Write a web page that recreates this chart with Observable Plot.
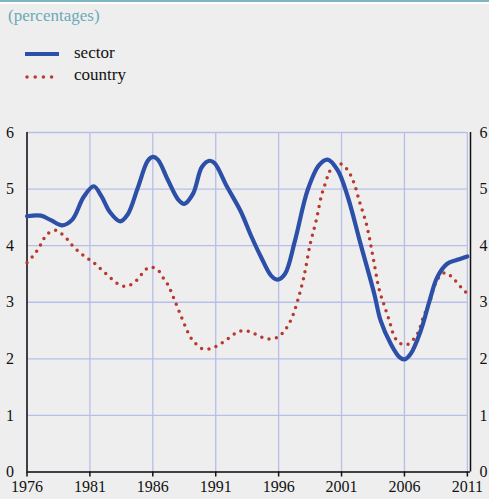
<!DOCTYPE html>
<html>
<head>
<meta charset="utf-8">
<script src="https://cdn.jsdelivr.net/npm/d3@7"></script>
<script src="https://cdn.jsdelivr.net/npm/@observablehq/plot@0.6"></script>
<style>
  html, body { margin: 0; padding: 0; background: #eeeeee; }
  #wrap { position: relative; width: 489px; height: 499px; overflow: hidden; background: #eeeeee; font-family: "Liberation Serif", "Times New Roman", Times, "DejaVu Serif", serif; }
  #topbar { position: absolute; left: 0; top: 0; width: 489px; height: 2px; background: #7fb4c0; }
  #topwhite { position: absolute; left: 0; top: 2px; width: 489px; height: 2px; background: #ffffff; }
  #title { position: absolute; left: 8px; top: 6px; font-size: 17px; color: #6aaab6; }
  .leg { position: absolute; left: 25px; font-size: 17px; color: #111; display: flex; align-items: center; }
  .leg svg { margin-right: 14px; }
  #chart { position: absolute; left: 0; top: 0; }
  #chart svg text { font-family: "Liberation Serif", "Times New Roman", Times, "DejaVu Serif", serif; }
</style>
</head>
<body>
<div id="wrap">
  <div id="topbar"></div>
  <div id="topwhite"></div>
  <div id="title">(percentages)</div>
  <div class="leg" style="top:43px;"><svg width="35" height="20"><line x1="0" x2="34" y1="11" y2="11" stroke="#2c4fa8" stroke-width="4"/></svg><span>sector</span></div>
  <div class="leg" style="top:65px;"><svg width="35" height="20"><line x1="2" x2="34" y1="12" y2="12" stroke="#b83a2e" stroke-width="3.5" stroke-linecap="round" stroke-dasharray="0 8.2"/></svg><span>country</span></div>
  <div id="chart"></div>
</div>
<script>
// ---- data ----
const sectorYears = [1976.0, 1977.1, 1977.9, 1978.8, 1979.6, 1980.5, 1981.3, 1981.9, 1982.6, 1983.4, 1984.0, 1984.8, 1985.6, 1986.0, 1986.4, 1987.2, 1988.0, 1988.5, 1989.2, 1989.9, 1990.5, 1990.9, 1991.9, 1993.0, 1993.8, 1994.6, 1995.4, 1995.9, 1996.5, 1997.3, 1998.3, 1999.2, 1999.9, 2000.7, 2001.5, 2002.5, 2003.6, 2004.1, 2004.9, 2005.6, 2006.0, 2006.5, 2007.3, 2008.0, 2008.6, 2009.4, 2010.2, 2011.0];
const sectorValues = [4.52, 4.53, 4.45, 4.36, 4.46, 4.86, 5.05, 4.88, 4.59, 4.43, 4.55, 5.02, 5.50, 5.57, 5.52, 5.16, 4.82, 4.74, 4.92, 5.39, 5.50, 5.46, 5.04, 4.60, 4.18, 3.80, 3.47, 3.40, 3.50, 4.09, 4.98, 5.42, 5.52, 5.33, 4.86, 4.04, 3.15, 2.68, 2.27, 2.03, 1.99, 2.09, 2.50, 3.03, 3.44, 3.68, 3.75, 3.81];

const countryYears = [1976.0, 1976.6, 1977.0, 1977.3, 1977.7, 1978.3, 1978.8, 1979.3, 1979.7, 1980.2, 1980.7, 1981.2, 1981.7, 1982.2, 1982.7, 1983.2, 1983.8, 1984.4, 1984.9, 1985.3, 1985.8, 1986.4, 1986.8, 1987.2, 1987.7, 1988.2, 1988.7, 1989.0, 1989.4, 1989.9, 1990.6, 1991.2, 1991.7, 1992.3, 1992.8, 1993.5, 1994.1, 1994.7, 1995.3, 1996.0, 1996.4, 1996.8, 1997.1, 1997.5, 1998.0, 1998.5, 1999.0, 1999.4, 1999.8, 2000.0, 2000.4, 2000.9, 2001.5, 2002.0, 2002.4, 2003.0, 2003.5, 2004.0, 2004.4, 2004.8, 2005.2, 2005.6, 2006.2, 2006.7, 2007.1, 2007.5, 2008.0, 2008.4, 2008.7, 2009.2, 2009.7, 2010.2, 2010.6, 2011.0];
const countryValues = [3.70, 3.85, 3.98, 4.11, 4.22, 4.27, 4.20, 4.09, 3.98, 3.88, 3.79, 3.72, 3.62, 3.52, 3.42, 3.33, 3.28, 3.33, 3.43, 3.55, 3.62, 3.57, 3.44, 3.31, 3.05, 2.78, 2.51, 2.38, 2.27, 2.18, 2.18, 2.24, 2.31, 2.41, 2.48, 2.49, 2.44, 2.38, 2.35, 2.39, 2.48, 2.61, 2.75, 3.02, 3.44, 4.02, 4.46, 4.88, 5.16, 5.29, 5.42, 5.45, 5.33, 5.10, 4.80, 4.36, 3.80, 3.22, 2.94, 2.67, 2.39, 2.28, 2.25, 2.34, 2.47, 2.74, 3.00, 3.30, 3.43, 3.52, 3.46, 3.34, 3.24, 3.15];

const xTicks = [1976, 1981, 1986, 1991, 1996, 2001, 2006, 2011];
const yTicks = [0, 1, 2, 3, 4, 5, 6];

const sector = sectorYears.map((y, i) => ({year: y, value: sectorValues[i]}));
const country = countryYears.map((y, i) => ({year: y, value: countryValues[i]}));

const xMax = 2011.25;
const gridColor = "#b7bfe8";
const serif = "'Liberation Serif', 'Times New Roman', Times, 'DejaVu Serif', serif";

const chart = Plot.plot({
  width: 489,
  height: 499,
  marginTop: 132,
  marginBottom: 27.5,
  marginLeft: 26.5,
  marginRight: 19,
  style: {background: "transparent", fontFamily: serif, color: "#111"},
  x: {domain: [1976, xMax], axis: null},
  y: {domain: [0, 6], axis: null},
  marks: [
    Plot.ruleY(yTicks, {x1: 1976, x2: 2011, stroke: gridColor, strokeWidth: 1.3}),
    Plot.ruleX(xTicks, {y1: 0, y2: 6, stroke: gridColor, strokeWidth: 1.3}),
    Plot.axisY({anchor: "left", ticks: yTicks, tickSize: 0, tickPadding: 13, fontSize: 16, label: null, tickFormat: d => String(d)}),
    Plot.axisY({anchor: "right", ticks: yTicks, tickSize: 0, tickPadding: 9, fontSize: 16, label: null, tickFormat: d => String(d)}),
    Plot.axisX({anchor: "bottom", ticks: xTicks, tickSize: 5, tickPadding: 4, fontSize: 16, label: null, tickFormat: d => String(d), stroke: "#111", strokeWidth: 1.5}),
    Plot.ruleX([1976], {y1: 0, y2: 6, stroke: "#111", strokeWidth: 1.5}),
    Plot.ruleX([xMax], {y1: 0, y2: 6, stroke: "#111", strokeWidth: 1.5}),
    Plot.ruleY([0], {x1: 1976, x2: xMax, stroke: "#111", strokeWidth: 1.5}),
    Plot.line(country, {x: "year", y: "value", curve: "catmull-rom", stroke: "#b83a2e", strokeWidth: 3.5, strokeLinecap: "round", strokeDasharray: "0 7.4"}),
    Plot.line(sector, {x: "year", y: "value", curve: "catmull-rom", stroke: "#2c4fa8", strokeWidth: 4.2, strokeLinejoin: "round"})
  ]
});
document.getElementById("chart").appendChild(chart);
</script>
</body>
</html>
